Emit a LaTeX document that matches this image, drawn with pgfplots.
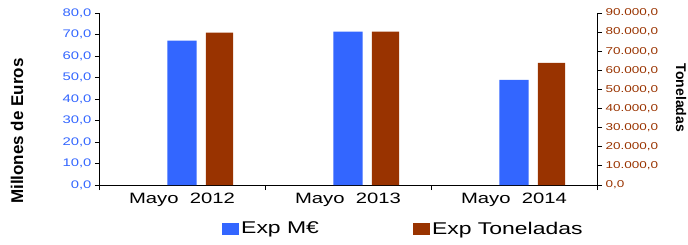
\documentclass[border=0pt]{standalone}
\usepackage{fontspec}
\setmainfont{Liberation Sans}[FakeStretch=1.35]
\newfontfamily\lblfont{Liberation Sans}
\usepackage{pgfplots}
\pgfplotsset{compat=1.18}
\definecolor{expblue}{HTML}{3366FF}
\definecolor{expbrown}{HTML}{993300}
\begin{document}
\begin{tikzpicture}
\path[use as bounding box] (-99pt,-59pt) rectangle (589pt,185pt);
\pgfplotsset{
  common/.style={width=498pt, height=172pt, scale only axis, at={(0,0)}, anchor=south west,
    xmin=-0.5, xmax=2.5, ymin=0, /pgf/number format/assume math mode=true,
    tick align=outside, axis line style={-, black, line width=0.8pt},
    every tick/.style={black, line width=0.8pt}},
  sq/.style={legend image code/.code={\fill[##1] (0pt,-6pt) rectangle (17pt,6pt);}},
}
\begin{axis}[common, ymax=80,
  axis y line*=left, axis x line*=bottom,
  ytick={0,10,...,80}, major tick length=4pt,
  xtick={0,1,2}, xticklabels={Mayo\ \ 2012, Mayo\ \ 2013, Mayo\ \ 2014},
  major x tick style={draw=none},
  minor xtick={-0.5,0.5,1.5,2.5}, minor tick length=5pt,
  xticklabel style={font=\fontsize{15}{18}\selectfont},
  yticklabel style={font=\fontsize{11}{13}\selectfont, text=expblue,
    /pgf/number format/.cd, fixed, fixed zerofill, precision=1, use comma},
]
\addplot[ybar, bar width=0.175, bar shift=0, fill=expblue, draw=none]
  coordinates {(0,67.1) (1,71.3) (2,48.9)};
\end{axis}
\begin{axis}[common, ymax=90000,
  axis y line*=right, axis x line=none,
  ytick={0,10000,...,90000}, scaled y ticks=false, major tick length=5pt,
  yticklabel style={font=\fontsize{10}{12}\selectfont, text=expbrown,
    /pgf/number format/.cd, fixed, fixed zerofill, precision=1, use comma},
  legend columns=2,
  legend style={at={(axis description cs:0.247,-0.254)}, anchor=west, draw=none, fill=none,
    inner sep=0pt, font=\fontsize{17}{20}\selectfont,
    /tikz/every even column/.append style={column sep=92pt}},
]
\addlegendimage{ybar, fill=expblue, draw=none, sq}
\addlegendentry{Exp M€}
\addplot[ybar, bar width=0.163, bar shift=0.226, fill=expbrown, draw=none, sq]
  coordinates {(0,79700) (1,80200) (2,63900)};
\addlegendentry{Exp Toneladas}
\end{axis}
\node[rotate=90, font=\lblfont\bfseries\fontsize{17}{20}\selectfont] at (-82pt,54pt) {Millones de Euros};
\node[rotate=-90, font=\lblfont\bfseries\fontsize{14}{16}\selectfont] at (582pt,87pt) {Toneladas};
\end{tikzpicture}
\end{document}
